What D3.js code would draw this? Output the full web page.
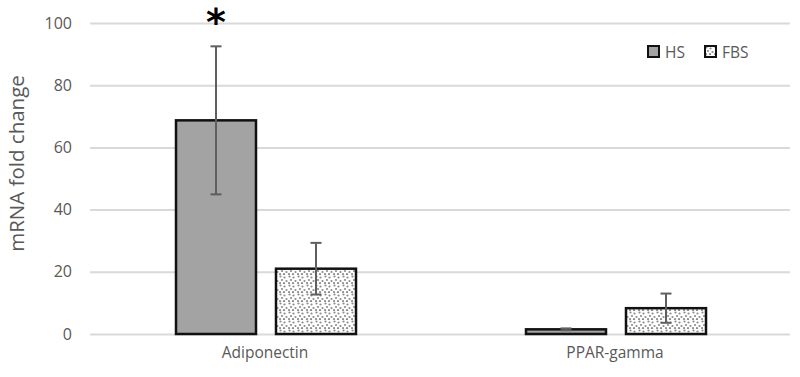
<!DOCTYPE html>
<html>
<head>
<meta charset="utf-8">
<script src="https://cdn.jsdelivr.net/npm/d3@7"></script>
<style>
  body { margin: 0; background: #fff; }
  svg { font-family: "Open Sans", sans-serif; }
</style>
</head>
<body>
<svg id="chart" width="800" height="377"></svg>
<script>
var genes = ["Adiponectin", "PPAR-gamma"];
var groups = ["HS", "FBS"];
var hsMean = [68.7, 1.5];
var hsErr = [23.8, 0.3];
var fbsMean = [21.0, 8.3];
var fbsErr = [8.3, 4.7];
var yTicks = [0, 20, 40, 60, 80, 100];

var dimensions = {
  width: 800,
  height: 377,
  margin: { top: 23, right: 10, bottom: 43, left: 90 },
};
dimensions.boundedWidth =
  dimensions.width - dimensions.margin.left - dimensions.margin.right;
dimensions.boundedHeight =
  dimensions.height - dimensions.margin.top - dimensions.margin.bottom;

var svg = d3.select("#chart");

// dotted fill for FBS bars
var pattern = svg
  .append("defs")
  .append("pattern")
  .attr("id", "dots")
  .attr("patternUnits", "userSpaceOnUse")
  .attr("width", 9)
  .attr("height", 9);
pattern.append("rect").attr("width", 9).attr("height", 9).attr("fill", "#fff");
[[1.5, 1.5], [5.5, 2.5], [3, 5], [7.5, 6], [1, 8], [5, 8.2]].forEach(function (p) {
  pattern
    .append("circle")
    .attr("cx", p[0])
    .attr("cy", p[1])
    .attr("r", 1.1)
    .attr("fill", "#8c8c8c");
});

var data = genes.map(function (g, i) {
  return {
    gene: g,
    values: [
      { group: "HS", mean: hsMean[i], err: hsErr[i] },
      { group: "FBS", mean: fbsMean[i], err: fbsErr[i] },
    ],
  };
});

var xScale = d3
  .scaleBand()
  .domain(genes)
  .range([0, dimensions.boundedWidth]);

var xInner = d3
  .scaleBand()
  .domain(groups)
  .range([86, xScale.bandwidth() - 84])
  .paddingInner(0.2);

var yScale = d3
  .scaleLinear()
  .domain([0, 100])
  .range([dimensions.boundedHeight, 0]);

var bounds = svg
  .append("g")
  .attr(
    "transform",
    "translate(" + dimensions.margin.left + "," + dimensions.margin.top + ")"
  );

// gridlines + y axis labels
var yAxis = d3
  .axisLeft(yScale)
  .tickValues(yTicks)
  .tickSize(-dimensions.boundedWidth)
  .tickPadding(18);

var yAxisG = bounds.append("g").call(yAxis);
yAxisG.select(".domain").remove();
yAxisG.selectAll("line").attr("stroke", "#d9d9d9").attr("stroke-width", 2);
yAxisG
  .selectAll("text")
  .attr("fill", "#595959")
  .attr("font-size", 16)
  .attr("font-family", "Open Sans, sans-serif");

// x axis labels
var xAxisG = bounds
  .append("g")
  .attr("transform", "translate(0," + dimensions.boundedHeight + ")")
  .call(d3.axisBottom(xScale).tickSize(0).tickPadding(13));
xAxisG.select(".domain").remove();
xAxisG
  .selectAll("text")
  .attr("fill", "#595959")
  .attr("font-size", 15.5)
  .attr("font-family", "Open Sans, sans-serif");

var geneG = bounds
  .selectAll(".gene")
  .data(data)
  .enter()
  .append("g")
  .attr("transform", function (d) {
    return "translate(" + xScale(d.gene) + ",0)";
  });

geneG
  .selectAll("rect")
  .data(function (d) {
    return d.values;
  })
  .enter()
  .append("rect")
  .attr("x", function (d) {
    return xInner(d.group);
  })
  .attr("width", xInner.bandwidth())
  .attr("y", function (d) {
    return yScale(d.mean);
  })
  .attr("height", function (d) {
    return dimensions.boundedHeight - yScale(d.mean);
  })
  .attr("fill", function (d) {
    return d.group === "HS" ? "#a3a3a3" : "url(#dots)";
  })
  .attr("stroke", "#111")
  .attr("stroke-width", 2.5);

// error bars
var errG = geneG
  .selectAll(".err")
  .data(function (d) {
    return d.values;
  })
  .enter()
  .append("g")
  .attr("stroke", "#5f5f5f")
  .attr("stroke-width", 2);

errG
  .append("line")
  .attr("x1", function (d) {
    return xInner(d.group) + xInner.bandwidth() / 2;
  })
  .attr("x2", function (d) {
    return xInner(d.group) + xInner.bandwidth() / 2;
  })
  .attr("y1", function (d) {
    return yScale(d.mean + d.err);
  })
  .attr("y2", function (d) {
    return yScale(d.mean - d.err);
  });

[1, -1].forEach(function (sign) {
  errG
    .append("line")
    .attr("x1", function (d) {
      return xInner(d.group) + xInner.bandwidth() / 2 - 5.5;
    })
    .attr("x2", function (d) {
      return xInner(d.group) + xInner.bandwidth() / 2 + 5.5;
    })
    .attr("y1", function (d) {
      return yScale(d.mean + sign * d.err);
    })
    .attr("y2", function (d) {
      return yScale(d.mean + sign * d.err);
    });
});

// significance marker
bounds
  .append("text")
  .attr("x", xScale("Adiponectin") + xInner("HS") + xInner.bandwidth() / 2)
  .attr("y", yScale(100) + 12)
  .attr("text-anchor", "middle")
  .attr("font-size", 38)
  .attr("font-weight", "bold")
  .attr("font-family", "DejaVu Sans, sans-serif")
  .attr("fill", "#000")
  .text("*");

// y axis title
svg
  .append("text")
  .attr(
    "transform",
    "translate(24," + (dimensions.margin.top + dimensions.boundedHeight / 2 - 15) + ") rotate(-90)"
  )
  .attr("text-anchor", "middle")
  .attr("font-size", 20.5)
  .attr("fill", "#595959")
  .text("mRNA fold change");

// legend
var legend = svg
  .append("g")
  .selectAll("g")
  .data(groups)
  .enter()
  .append("g")
  .attr("transform", function (d, i) {
    return "translate(" + (648 + i * 57) + ",46)";
  });
legend
  .append("rect")
  .attr("width", 11)
  .attr("height", 11)
  .attr("fill", function (d) {
    return d === "HS" ? "#a3a3a3" : "url(#dots)";
  })
  .attr("stroke", "#111")
  .attr("stroke-width", 2);
legend
  .append("text")
  .attr("x", 17)
  .attr("y", 12)
  .attr("font-size", 15.5)
  .attr("fill", "#595959")
  .text(function (d) {
    return d;
  });
</script>
</body>
</html>
